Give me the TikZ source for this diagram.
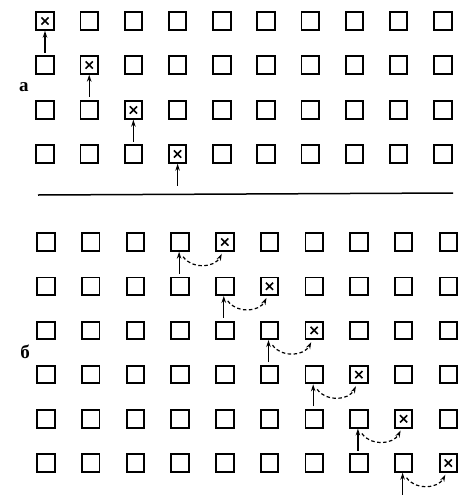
\documentclass[tikz,border=0pt]{standalone}
\usepackage{fontspec}
\setmainfont{Liberation Serif}
\usetikzlibrary{arrows.meta}
\begin{document}
\begin{tikzpicture}[x=1pt,y=-1pt,
  cell/.style={draw, line width=1.9pt, minimum size=17.5pt, inner sep=0pt},
  xcell/.style={cell, path picture={\draw[line width=1.6pt]
      ([shift={(-3.6pt,-3.6pt)}]path picture bounding box.center) -- ++(7.2pt,7.2pt)
      ([shift={(-3.6pt,3.6pt)}]path picture bounding box.center) -- ++(7.2pt,-7.2pt);}},
  uparr/.style={line width=1.2pt, -{Stealth[length=7pt,width=4.5pt]}},
  hoparr/.style={line width=1.2pt, dash pattern=on 3.5pt off 2.5pt, -{Stealth[length=7pt,width=4.5pt]}},
  lbl/.style={font=\fontsize{19}{19}\selectfont\bfseries, inner sep=0pt}]
\useasboundingbox (0,0) rectangle (463,501);
% part a
\foreach \r/\yy in {1/21,2/65,3/110,4/154} {
  \foreach \c in {1,...,10} {
    \ifnum\c=\r \def\st{xcell}\else\def\st{cell}\fi
    \node[\st] (t-\r-\c) at ({45+44.2*(\c-1)},\yy) {};
  }
  \coordinate (ta\r) at ([yshift=-22pt]t-\r-\r.south);
  \draw[uparr] (ta\r) -- (t-\r-\r.south);
}
\node[lbl] (la) at (24,87) {а};
% separator
\coordinate (s1) at (38,195);
\coordinate (s2) at (453,193);
\draw[line width=1.5pt] (s1) -- (s2);
% part b
\foreach \r in {1,...,6} {
  \pgfmathsetmacro{\yy}{242+44.2*(\r-1)}
  \pgfmathtruncatemacro{\cc}{\r+3}
  \pgfmathtruncatemacro{\dd}{\r+4}
  \foreach \c in {1,...,10} {
    \ifnum\c=\dd \def\st{xcell}\else\def\st{cell}\fi
    \node[\st] (b-\r-\c) at ({46+44.7*(\c-1)},\yy) {};
  }
  \coordinate (ba\r) at ([xshift=-1pt,yshift=-22pt]b-\r-\cc.south);
  \draw[uparr] (ba\r) -- ([xshift=-1pt]b-\r-\cc.south);
  \coordinate (bs\r) at ([xshift=3pt,yshift=-5pt]b-\r-\cc.south);
  \coordinate (be\r) at ([xshift=-3pt,yshift=-2pt]b-\r-\dd.south);
  \draw[hoparr] (bs\r) .. controls +(9pt,-13pt) and +(-7pt,-14pt) .. (be\r);
}
\node[lbl] (lb) at (25,352) {б};
\end{tikzpicture}
\end{document}
